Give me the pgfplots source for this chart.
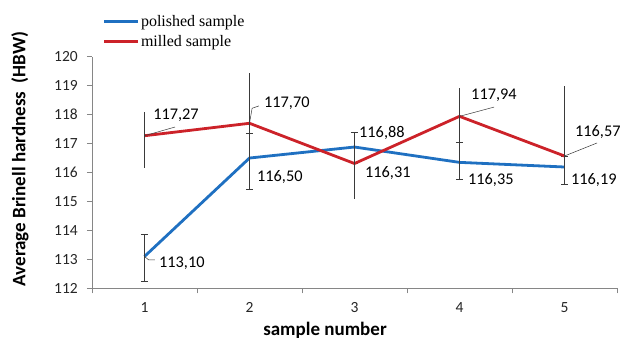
\documentclass[border=0pt]{standalone}
\usepackage{fontspec}
\setmainfont{Carlito}
\newfontfamily\legfont{Liberation Serif}
\usepackage{pgfplots}
\pgfplotsset{compat=1.18}
\definecolor{cblue}{HTML}{1F70C1}
\definecolor{cred}{HTML}{CC2229}
\definecolor{axgray}{HTML}{868686}
\definecolor{ebar}{HTML}{3A3A3A}
\newcommand{\lbl}{\fontsize{16.3}{19}\selectfont}

\pgfplotstableread{
x y ep em
1 113.10 0.78 0.85
2 116.50 0.85 1.08
3 116.88 0.49 0.57
4 116.35 0.68 0.57
5 116.19 0.38 0.59
}\polished

\pgfplotstableread{
x y ep em
1 117.27 0.83 1.12
2 117.70 1.75 1.60
3 116.31 1.00 1.24
4 117.94 0.97 0.90
5 116.57 2.42 0.50
}\milled

\begin{document}
\begin{tikzpicture}[x=1pt,y=1pt]
\useasboundingbox (0,0) rectangle (622,340);
\begin{axis}[
  at={(92pt,51.7pt)}, anchor=south west,
  scale only axis, width=525pt, height=231.6pt,
  xmin=0.5, xmax=5.5, ymin=112, ymax=120,
  axis x line*=bottom, axis y line*=left,
  axis line style={axgray, line width=0.8pt, -},
  xtick={1,2,3,4,5},
  major x tick style={draw=none},
  minor xtick={0.5,1.5,2.5,3.5,4.5,5.5},
  minor x tick style={axgray, line width=0.8pt},
  minor tick length=5pt,
  ytick={112,113,...,120},
  major tick length=5pt,
  y tick style={axgray, line width=0.8pt},
  tick align=outside,
  /pgf/number format/assume math mode=true,
  ticklabel style={font=\fontsize{15.5}{18}\selectfont, text=black!85},
  xticklabel style={anchor=center, yshift=-14pt},
  yticklabel style={anchor=east, inner sep=0pt, xshift=-9pt},
  clip=false,
  legend style={draw=none, fill=none, at={(axis description cs:0.02,1.185)}, anchor=north west,
    font=\legfont\fontsize{16}{18}\selectfont, row sep=4pt, inner sep=0pt,
    nodes={inner sep=1.5pt}},
  legend cell align=left,
  legend image code/.code={\draw[#1, line width=2.8pt] (0pt,0pt) -- (34pt,0pt);},
]
\addplot[cblue, line width=2.8pt, error bars/.cd, y dir=both, y explicit,
  error bar style={ebar, line width=0.7pt},
  error mark options={rotate=90, mark size=3.5pt, ebar, line width=0.7pt}]
  table[x=x, y=y, y error plus=ep, y error minus=em] {\polished};
\addlegendentry{polished sample}
\addplot[cred, line width=2.8pt, error bars/.cd, y dir=both, y explicit,
  error bar style={ebar, line width=0.7pt}, error mark=none]
  table[x=x, y=y, y error plus=ep, y error minus=em] {\milled};
\addlegendentry{milled sample}

% leader lines
\draw[ebar, line width=0.5pt] (axis cs:1,117.27) -- (axis cs:1.29,117.57);
\draw[ebar, line width=0.5pt] (axis cs:2,117.70) -- (axis cs:2.025,118.22) -- (axis cs:2.09,118.30);
\draw[ebar, line width=0.5pt] (axis cs:1,113.10) -- (axis cs:1.04,112.98) -- (axis cs:1.10,112.98);
\draw[ebar, line width=0.5pt] (axis cs:4,117.94) -- (axis cs:4.33,118.26);
\draw[ebar, line width=0.5pt] (axis cs:5,116.57) -- (axis cs:5.31,117.02);
% labels
\node[font=\lbl, inner sep=0pt] at (axis cs:1.30,117.99) {117,27};
\node[font=\lbl, inner sep=0pt, anchor=west] at (axis cs:2.138,118.40) {117,70};
\node[font=\lbl, inner sep=0pt, anchor=west] at (axis cs:2.071,115.84) {116,50};
\node[font=\lbl, inner sep=0pt, anchor=west] at (axis cs:1.138,112.87) {113,10};
\node[font=\lbl, inner sep=0pt, anchor=west] at (axis cs:3.043,117.36) {116,88};
\node[font=\lbl, inner sep=0pt, anchor=west] at (axis cs:3.10,115.98) {116,31};
\node[font=\lbl, inner sep=0pt, anchor=west] at (axis cs:4.11,118.68) {117,94};
\node[font=\lbl, inner sep=0pt, anchor=west] at (axis cs:4.081,115.74) {116,35};
\node[font=\lbl, inner sep=0pt, anchor=west] at (axis cs:5.10,117.40) {116,57};
\node[font=\lbl, inner sep=0pt, anchor=west] at (axis cs:5.062,115.74) {116,19};
\end{axis}
\node[font=\bfseries\fontsize{19}{22}\selectfont, anchor=base] at (325,4) {sample number};
\node[font=\bfseries\fontsize{19}{22}\selectfont, rotate=90] at (20,181) {Average Brinell hardness\ \ (HBW)};
\end{tikzpicture}
\end{document}
